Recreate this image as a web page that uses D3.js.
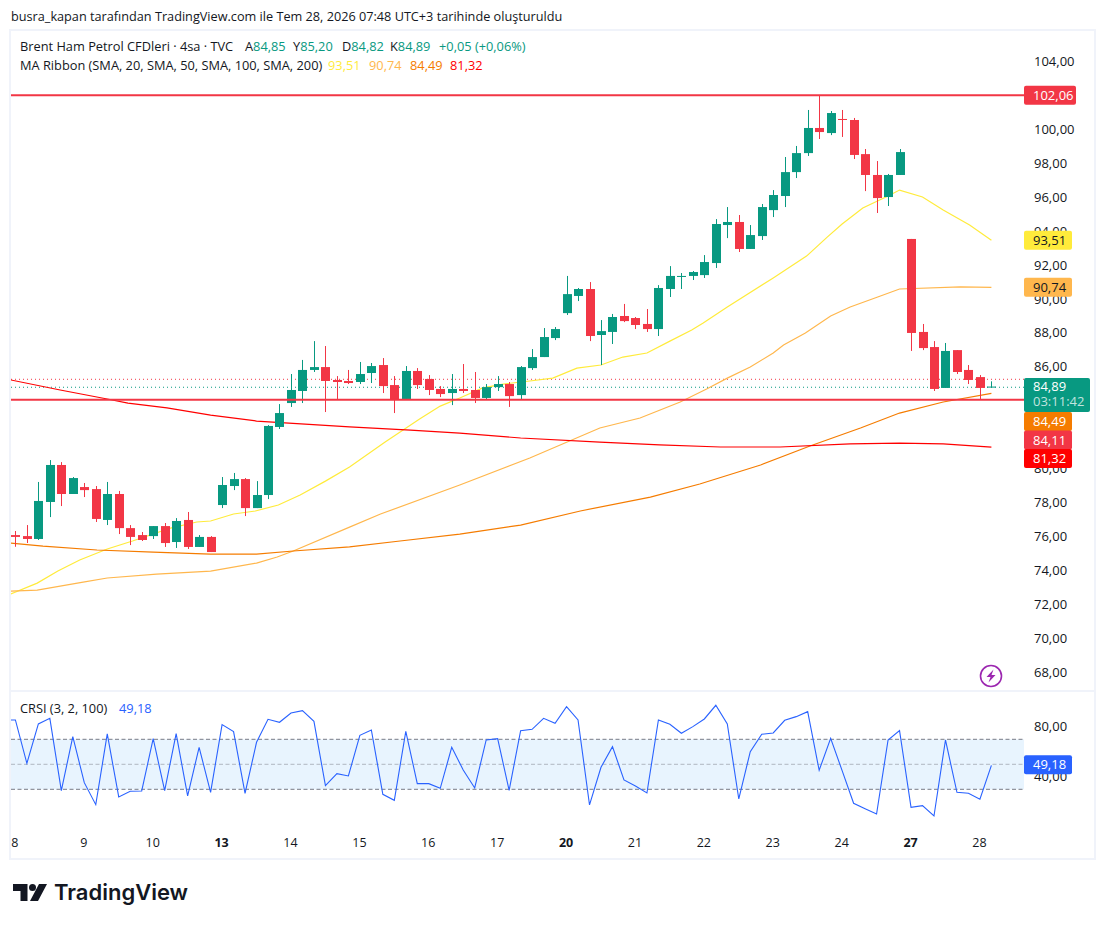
<!DOCTYPE html>
<html>
<head>
<meta charset="utf-8">
<script src="https://cdn.jsdelivr.net/npm/d3@7"></script>
<style>
  html, body { margin: 0; background: #fff; }
  svg { display: block; font-family: "Open Sans", sans-serif; }
</style>
</head>
<body>
<svg id="chart" width="1106" height="925"></svg>
<script>
// candles, 4h bars, one row per bar: open, high, low, close
var ohlc = [
  [76.14,76.38,75.45,76.03],[76.08,76.73,75.67,75.91],[75.91,79.27,75.85,78.15],[78.09,80.56,77.20,80.27],
  [80.27,80.44,77.85,78.56],[78.56,79.56,78.56,79.50],[78.97,79.21,78.38,78.79],[78.85,79.03,76.91,77.09],
  [77.03,79.27,76.73,78.56],[78.56,78.74,76.20,76.55],[76.55,76.73,75.55,76.03],[76.14,76.32,75.79,75.85],
  [76.08,76.67,75.91,76.67],[76.67,76.85,75.44,75.67],[75.73,77.14,75.38,76.97],[77.03,77.50,75.32,75.44],
  [75.44,76.14,75.44,76.03],[76.03,76.08,75.14,75.14],[77.91,79.56,77.73,79.09],[79.03,79.80,78.79,79.44],
  [79.44,79.50,77.26,77.73],[77.73,79.32,77.73,78.50],[78.50,82.62,78.26,82.57],[82.51,83.86,82.39,83.33],
  [83.92,85.63,83.69,84.69],[84.63,86.46,83.92,85.87],[85.87,87.57,85.75,86.04],[86.04,87.28,83.39,85.22],
  [85.28,85.51,84.16,85.16],[85.22,85.87,85.04,85.10],[85.16,86.34,85.04,85.63],[85.69,86.28,85.10,86.10],
  [86.16,86.57,84.51,84.92],[84.98,85.51,83.33,84.10],[84.16,86.10,84.10,85.81],[85.81,85.98,84.75,84.98],
  [85.34,85.57,84.39,84.69],[84.75,84.92,84.27,84.45],[84.51,85.63,83.80,84.75],[84.75,86.22,84.51,84.63],
  [84.69,85.75,83.92,84.22],[84.22,85.04,84.10,84.86],[84.86,85.51,84.63,85.04],[85.04,85.16,83.69,84.33],
  [84.39,86.10,84.16,86.04],[85.98,87.10,85.87,86.63],[86.63,88.34,86.63,87.81],[87.75,88.40,87.63,88.28],
  [89.22,91.41,89.11,90.34],[90.23,90.70,89.93,90.64],[90.64,91.05,87.57,87.87],[87.93,88.81,86.16,88.16],
  [88.11,89.17,87.40,88.99],[89.05,89.76,88.69,88.75],[88.93,88.99,88.28,88.52],[88.58,89.46,88.11,88.28],
  [88.28,90.87,87.87,90.70],[90.64,91.99,90.17,91.41],[91.35,91.58,90.64,91.41],[91.41,91.70,91.17,91.64],
  [91.46,92.64,91.29,92.23],[92.17,94.76,91.88,94.47],[94.41,95.47,93.64,94.59],[94.59,95.00,92.82,93.00],
  [93.00,94.41,93.00,93.82],[93.76,95.65,93.53,95.47],[95.29,96.47,94.88,96.18],[96.12,98.42,95.47,97.53],
  [97.53,99.07,97.18,98.65],[98.65,101.19,98.48,100.13],[100.13,102.06,99.48,99.89],[99.83,101.13,99.71,101.01],
  [100.66,101.19,99.60,100.60],[100.60,100.72,98.30,98.54],[98.59,98.89,96.41,97.36],[97.36,98.18,95.12,96.00],
  [96.06,97.42,95.53,97.36],[97.36,98.89,97.36,98.71],[93.59,93.59,86.99,88.05],[88.11,88.58,87.04,87.16],
  [87.22,87.57,84.63,84.75],[84.81,87.46,84.81,86.99],[87.04,87.04,85.63,85.75],[85.87,86.16,85.04,85.28],
  [85.45,85.57,84.16,84.81],[84.85,85.20,84.82,84.89]
];

// MA ribbon, [bar, price]
var ma20 = [[-0.4,72.67],[1.9,73.31],[3.7,74.02],[5.6,74.67],[8,75.32],[10.2,75.79],[13.5,76.55],[15.8,76.91],[17,76.97],[19,77.38],[20.9,77.56],[22.9,77.91],[24.8,78.50],[27,79.32],[29.1,80.15],[32.2,81.62],[35.2,82.98],[37,83.74],[38.7,84.22],[40.7,84.81],[42.5,85.04],[44.8,85.22],[46.8,85.39],[48.9,85.98],[51,86.16],[52.9,86.63],[55,86.87],[57,87.57],[58.9,88.22],[59.9,88.64],[62,89.58],[66,91.29],[68.9,92.58],[70.7,93.70],[72,94.47],[73.8,95.41],[76,96.12],[77,96.47],[79,96.06],[80.8,95.29],[83.1,94.41],[85,93.51]];
var ma50 = [[-0.4,72.84],[1.9,72.90],[5.9,73.37],[8,73.61],[12.3,73.84],[17,74.02],[21,74.49],[22.8,74.85],[24.2,75.20],[29.1,76.61],[31.8,77.38],[38.7,79.09],[44.8,80.68],[50.9,82.45],[54.4,83.04],[57.9,83.98],[60.2,84.75],[62,85.39],[64,86.04],[66,86.87],[66.9,87.34],[68.8,88.05],[71,89.05],[72.7,89.58],[75.1,90.17],[77,90.64],[82.3,90.76],[85,90.74]];
var ma100 = [[-0.4,75.67],[2.4,75.49],[7.1,75.26],[12,75.14],[17,75.02],[21,75.02],[24.2,75.20],[29.1,75.44],[33.5,75.79],[38.7,76.20],[44,76.73],[49.2,77.56],[55.3,78.38],[59.6,79.15],[64.9,80.27],[69.2,81.39],[73.6,82.45],[77,83.33],[80.8,83.98],[85,84.49]];
var ma200 = [[-0.4,85.28],[3.9,84.69],[8,84.16],[9.8,83.92],[13.2,83.63],[17,83.21],[21,82.86],[29.1,82.51],[34.4,82.33],[38.7,82.15],[44,81.86],[50.9,81.62],[56.1,81.45],[61.4,81.33],[66.6,81.33],[72.7,81.51],[77,81.56],[80.8,81.51],[85,81.32]];

// CRSI by bar, first value is the bar before the window
var crsi = [85.47,85.47,50.8,82.27,86.8,28.93,72.13,35.33,17.73,74.27,23.87,28.4,28.67,70.53,28.93,74.53,24.67,63.6,27.6,81.73,76.13,26.8,67.6,86,83.6,91.07,92.93,84.4,32.93,42.53,40.67,73.2,77.47,26,21.2,76.4,34.53,34.53,30.8,63.6,45.47,31.07,69.47,70.53,29.2,76.93,78,86.8,82.8,96.13,85.47,17.47,47.6,64.13,37.47,32.67,27.07,85.47,82,74.8,80.13,86.27,97.2,82.27,22.27,60.13,74,75.07,85.2,88.13,92.13,45.2,70.8,44.93,18.8,14.53,10.27,69.47,76.93,15.6,16.93,8.67,69.47,27.6,26.8,22,49.18];

var dayLabels = ["8","9","10","13","14","15","16","17","20","21","22","23","24","27","28"];
var boldDays = ["13","20","27"];
var priceTicks = [104,100,98,96,94,92,90,88,86,80,78,76,74,72,70,68];
var crsiTicks = [80,40];
var levels = [102.06, 84.11];
var prevDotted = 85.32, lastDotted = 84.85;
var bandLevels = [70,50,30];

var fmt = function (v) { return v.toFixed(2).replace(".", ","); };

var green = "#089981", red = "#f23645", ink = "#131722";
var svg = d3.select("#chart");
var L = 11, R = 1024, T = 31, MID = 691, B = 858;

var x = d3.scaleLinear().domain([0, 85]).range([15.4, 991.4]);
var y = d3.scaleLinear().domain([104, 68]).range([62.3, 673.2]);
var yc = d3.scaleLinear().domain([70, 30]).range([739.3, 789.3]);

// frame
svg.append("rect").attr("x", 10).attr("y", 30).attr("width", 1085).attr("height", 829)
  .attr("fill", "#fff").attr("stroke", "#f0f3fa").attr("stroke-width", 2);
svg.append("line").attr("x1", L).attr("x2", 1094).attr("y1", MID).attr("y2", MID)
  .attr("stroke", "#f0f3fa").attr("stroke-width", 2);

var defs = svg.append("defs");
defs.append("clipPath").attr("id", "main").append("rect")
  .attr("x", L).attr("y", T).attr("width", R - L).attr("height", MID - T);
defs.append("clipPath").attr("id", "low").append("rect")
  .attr("x", L).attr("y", MID).attr("width", R - L).attr("height", 140);

svg.append("text").attr("x", 11).attr("y", 20.5).attr("font-size", 12.7).attr("fill", ink)
  .text("busra_kapan tarafından TradingView.com ile Tem 28, 2026 07:48 UTC+3 tarihinde oluşturuldu");

var main = svg.append("g").attr("clip-path", "url(#main)");

// dotted price lines
main.append("line").attr("x1", L).attr("x2", R).attr("y1", y(prevDotted)).attr("y2", y(prevDotted))
  .attr("stroke", red).attr("stroke-dasharray", "1 3");
main.append("line").attr("x1", L).attr("x2", R).attr("y1", y(lastDotted)).attr("y2", y(lastDotted))
  .attr("stroke", green).attr("stroke-dasharray", "1 3");

// ribbon
var maLine = d3.line().x(function(d) { return x(d[0]); }).y(function(d) { return y(d[1]); });
[[ma20, "#ffeb3b"], [ma50, "#ffb74d"], [ma100, "#f57c00"], [ma200, "#ff0000"]].forEach(function (m) {
  main.append("path").attr("d", maLine(m[0])).attr("fill", "none").attr("stroke", m[1]).attr("stroke-width", 1.2);
});

// candles
var bars = main.selectAll(".bar").data(ohlc).enter().append("g").attr("class", "bar")
  .attr("fill", function(d) { return d[3] >= d[0] ? green : red; })
  .attr("stroke", function(d) { return d[3] >= d[0] ? green : red; });
bars.append("line")
  .attr("x1", function(d, i) { return Math.round(x(i)) + 0.5; })
  .attr("x2", function(d, i) { return Math.round(x(i)) + 0.5; })
  .attr("y1", function(d) { return y(d[1]); })
  .attr("y2", function(d) { return y(d[2]); });
bars.append("rect")
  .attr("stroke", "none")
  .attr("x", function(d, i) { return Math.round(x(i)) - 4; })
  .attr("width", 9)
  .attr("y", function(d) { return y(Math.max(d[0], d[3])); })
  .attr("height", function(d) { return Math.max(1, Math.abs(y(d[0]) - y(d[3]))); });

// horizontal levels
main.selectAll(".level").data(levels).enter().append("line").attr("class", "level")
  .attr("x1", L).attr("x2", R)
  .attr("y1", function(d) { return y(d); }).attr("y2", function(d) { return y(d); })
  .attr("stroke", red).attr("stroke-width", 2);

// legend
var legend = svg.append("g").attr("font-size", 12.8);
var legendPart = function (px, py, parts) {
  var t = legend.append("text").attr("x", px).attr("y", py);
  parts.forEach(function (p) { t.append("tspan").attr("fill", p[1]).text(p[0]); });
};
var last = ohlc[ohlc.length - 1];
legendPart(20, 51, [["Brent Ham Petrol CFDleri · 4sa · TVC", ink]]);
legendPart(245, 51, [["A", ink], [fmt(last[0]), green]]);
legendPart(293, 51, [["Y", ink], [fmt(last[1]), green]]);
legendPart(342, 51, [["D", ink], [fmt(last[2]), green]]);
legendPart(390, 51, [["K", ink], [fmt(last[3]), green]]);
legendPart(439, 51, [["+0,05 (+0,06%)", green]]);
legendPart(20, 70, [["MA Ribbon (SMA, 20, SMA, 50, SMA, 100, SMA, 200)", ink]]);
legendPart(328, 70, [["93,51", "#ffeb3b"]]);
legendPart(369, 70, [["90,74", "#ffb74d"]]);
legendPart(410, 70, [["84,49", "#f57c00"]]);
legendPart(450, 70, [["81,32", "#ff0000"]]);

// price axis
var axisY = d3.axisRight(y).tickValues(priceTicks).tickFormat(fmt).tickSize(0).tickPadding(0);
var gy = svg.append("g").attr("transform", "translate(1034,-1)").call(axisY);
gy.select(".domain").remove();
gy.selectAll("text").attr("font-size", 13).attr("fill", ink).attr("font-family", "Open Sans");

// axis tags
var tag = function (cy, w, fill, color, txt) {
  svg.append("rect").attr("x", 1024).attr("y", cy - 9.5).attr("width", w).attr("height", 19)
    .attr("rx", 2).attr("fill", fill);
  svg.append("text").attr("x", 1033).attr("y", cy).attr("dy", "0.35em")
    .attr("font-size", 13).attr("fill", color).text(txt);
};
tag(y(levels[0]), 52, red, "#fff", fmt(levels[0]));
tag(y(93.51), 48, "#ffeb3b", ink, "93,51");
tag(y(90.74), 48, "#ffb74d", ink, "90,74");
tag(421.5, 48, "#f57c00", "#fff", "84,49");
tag(440, 48, red, "#fff", fmt(levels[1]));
tag(458.5, 48, "#ff0000", "#fff", "81,32");

// last price tag
svg.append("rect").attr("x", 1024).attr("y", 378).attr("width", 66).attr("height", 34).attr("rx", 2).attr("fill", green);
svg.append("text").attr("x", 1033).attr("y", 391).attr("font-size", 13).attr("fill", "#fff").text("84,89");
svg.append("text").attr("x", 1033).attr("y", 406).attr("font-size", 13).attr("fill", "#fff").attr("fill-opacity", 0.75).text("03:11:42");

// lightning badge
var badge = svg.append("g").attr("transform", "translate(991,676)");
badge.append("circle").attr("r", 10.5).attr("fill", "#fff").attr("stroke", "#9c27b0").attr("stroke-width", 1.6);
badge.append("path").attr("d", "M2.5,-6.5 L-4.5,1 L-0.5,1 L-2.5,6.5 L4.5,-1 L0.5,-1 Z").attr("fill", "#9c27b0");

// CRSI pane
var low = svg.append("g").attr("clip-path", "url(#low)");
low.append("rect").attr("x", L).attr("width", R - L)
  .attr("y", yc(bandLevels[0])).attr("height", yc(bandLevels[2]) - yc(bandLevels[0]))
  .attr("fill", "#2196f3").attr("fill-opacity", 0.1);
low.selectAll(".band").data(bandLevels).enter().append("line").attr("class", "band")
  .attr("x1", L).attr("x2", R)
  .attr("y1", function(d) { return yc(d); }).attr("y2", function(d) { return yc(d); })
  .attr("stroke", "#787b86").attr("stroke-opacity", function(d) { return d == 50 ? 0.5 : 1; })
  .attr("stroke-dasharray", "4 2.5");
var crsiLine = d3.line().x(function(d, i) { return x(i - 1); }).y(function(d) { return yc(d); });
low.append("path").attr("d", crsiLine(crsi)).attr("fill", "none").attr("stroke", "#2962ff").attr("stroke-width", 1.1);

var axisC = d3.axisRight(yc).tickValues(crsiTicks).tickFormat(fmt).tickSize(0).tickPadding(0);
var gc = svg.append("g").attr("transform", "translate(1034,0)").call(axisC);
gc.select(".domain").remove();
gc.selectAll("text").attr("font-size", 13).attr("fill", ink).attr("font-family", "Open Sans");
tag(yc(crsi[crsi.length - 1]) - 0.5, 48, "#2962ff", "#fff", "49,18");

var crsiLegend = svg.append("text").attr("x", 20).attr("y", 713).attr("font-size", 12.8);
crsiLegend.append("tspan").attr("fill", ink).text("CRSI (3, 2, 100)");
crsiLegend.append("tspan").attr("fill", "#2962ff").attr("x", 119).text("49,18");

// day axis
var dayScale = d3.scalePoint().domain(dayLabels).range([x(0), x(84)]);
var gx = svg.append("g").attr("transform", "translate(-1,838)").call(d3.axisBottom(dayScale).tickSize(0).tickPadding(0));
gx.select(".domain").remove();
gx.selectAll("text").attr("font-size", 12.5).attr("fill", ink).attr("font-family", "Open Sans")
  .attr("font-weight", function(d) { return boldDays.indexOf(d) >= 0 ? 700 : 400; });

// logo
var logo = svg.append("g").attr("transform", "translate(13,884)").attr("fill", ink);
logo.append("path").attr("d", "M0,0 H14.5 V17 H7.5 V7 H0 Z M17,17 L26,0 H34 L25,17 Z");
logo.append("circle").attr("cx", 19.5).attr("cy", 3.5).attr("r", 3.5);
svg.append("text").attr("x", 54).attr("y", 900).attr("font-family", "Inter").attr("font-weight", 600)
  .attr("font-size", 22).attr("fill", ink).text("TradingView");
</script>
</body>
</html>
